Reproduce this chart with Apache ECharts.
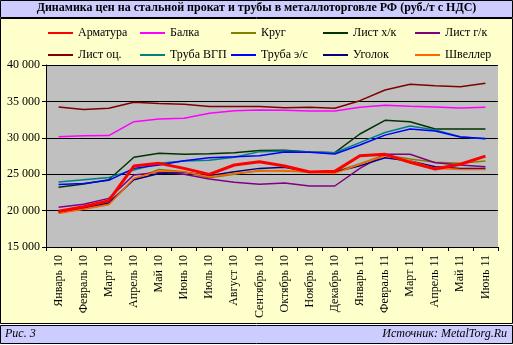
<!DOCTYPE html>
<html><head><meta charset="utf-8">
<script src="https://cdn.jsdelivr.net/npm/echarts@6/dist/echarts.min.js"></script>
<style>html,body{margin:0;padding:0;background:#fff}#c{width:513px;height:345px}</style>
</head><body><div id="c"></div>
<script>
const categories = ['Январь 10','Февраль 10','Март 10','Апрель 10','Май 10','Июнь 10','Июль 10','Август 10','Сентябрь 10','Октябрь 10','Ноябрь 10','Декабрь 10','Январь 11','Февраль 11','Март 11','Апрель 11','Май 11','Июнь 11'];
const seriesNames = ['Арматура','Балка','Круг','Лист х/к','Лист г/к','Лист оц.','Труба ВГП','Труба э/с','Уголок','Швеллер'];
const armatura = [19900,20530,21360,26120,26490,25800,24980,26260,26720,26120,25300,25390,27540,27730,26630,25710,26360,27490];
const balka    = [30150,30290,30300,32210,32580,32680,33360,33720,33820,33770,33680,33680,34190,34460,34320,34230,34090,34190];
const krug     = [19760,20210,20860,24340,25660,25330,24520,24980,25500,25450,25300,25300,26450,27630,27080,26630,26490,26810];
const listHK   = [23200,23650,24240,27320,27870,27730,27820,27950,28250,28280,28050,27950,30520,32400,32210,31200,31200,31200];
const listGK   = [20450,20860,21680,24890,25260,24980,24340,23880,23610,23790,23380,23380,25800,27740,27740,26580,26260,26030];
const listOc   = [34230,33900,34050,34870,34700,34600,34300,34300,34300,34130,34200,34050,35100,36560,37350,37160,37020,37480];
const trubaVGP = [23920,24240,24560,25570,26490,26810,26900,27320,28100,28200,28050,27950,29330,30730,31620,31070,30150,29830];
const trubaES  = [23590,23730,24160,25800,26260,26850,27270,27400,27540,28050,28030,27770,29010,30370,31200,30930,30110,29920];
const ugolok   = [19800,20400,21090,24230,25110,25260,24800,25330,25800,25940,25300,25300,26170,27270,26810,26030,25800,25800];
const shveller = [19600,20200,20800,24430,25440,25330,24660,25110,25450,25500,25300,25110,26360,27540,26810,25800,25660,25660];
const yTicks = {min:15000, max:40000, interval:5000};

const values = [armatura,balka,krug,listHK,listGK,listOc,trubaVGP,trubaES,ugolok,shveller];
const colors = ['#FF0000','#FF00FF','#808000','#003300','#800080','#800000','#008080','#0000FF','#000080','#FF6600'];
const widths = [3,1.5,1.5,1.5,1.5,1.5,1.5,1.5,1.5,1.5];
const serif = 'Liberation Serif, Times New Roman, serif';

const series = seriesNames.map((n,i)=>({
  name:n, type:'line', data:values[i], symbol:'none', smooth:false,
  lineStyle:{color:colors[i], width:widths[i]}, itemStyle:{color:colors[i]},
  z: i===0 ? 3 : 2
}));

const legendLefts = [48,140,231,323,415];
const legends = seriesNames.map((n,i)=>({
  left: legendLefts[i%5], top: i<5 ? 27 : 49,
  orient:'horizontal', itemWidth:25, itemHeight:2, icon:'rect', padding:0,
  textStyle:{fontFamily:serif, fontSize:12, color:'#000'},
  data:[n]
}));

const chart = echarts.init(document.getElementById('c'), null, {renderer:'canvas'});
chart.setOption({
  animation:false,
  backgroundColor:'#fff',
  graphic:[
    {type:'rect', shape:{x:0.5,y:0.5,width:512,height:17}, style:{fill:'#CCCCFF', stroke:'#000', lineWidth:1}, z:-10},
    {type:'rect', shape:{x:0.5,y:18.5,width:512,height:305}, style:{fill:'#FFFFCC', stroke:'#000', lineWidth:1}, z:-10},
    {type:'rect', shape:{x:0.5,y:325.5,width:512,height:18}, style:{fill:'#CCCCFF', stroke:'#000', lineWidth:1}, z:-10},
    {type:'text', left:'center', top:2, style:{text:'Динамика цен на стальной прокат и трубы в металлоторговле РФ (руб./т с НДС)', font:'bold 12px '+serif, fill:'#000'}},
    {type:'text', left:5, top:328, style:{text:'Рис. 3', font:'italic 12px '+serif, fill:'#000'}},
    {type:'text', right:6, top:328, style:{text:'Источник: MetalTorg.Ru', font:'italic 12px '+serif, fill:'#000'}}
  ],
  legend: legends,
  grid:{left:46, right:15, top:65, bottom:98, show:true, backgroundColor:'#C0C0C0', borderWidth:0},
  xAxis:{
    type:'category', data:categories, boundaryGap:true,
    axisLine:{lineStyle:{color:'#000', width:1}},
    axisTick:{show:true, alignWithLabel:false, length:4, lineStyle:{color:'#000'}},
    axisLabel:{rotate:90, fontFamily:serif, fontSize:12, color:'#000', margin:8, interval:0},
    splitLine:{show:false}
  },
  yAxis:{
    type:'value', min:yTicks.min, max:yTicks.max, interval:yTicks.interval,
    axisLine:{show:true, lineStyle:{color:'#000'}},
    axisTick:{show:true, length:4, lineStyle:{color:'#000'}},
    axisLabel:{fontFamily:serif, fontSize:12, color:'#000', margin:6,
      formatter:v=>String(v).replace(/\B(?=(\d{3})+(?!\d))/g,' ')},
    splitLine:{show:true, lineStyle:{color:'#000', width:1}}
  },
  series:series
});
</script></body></html>
